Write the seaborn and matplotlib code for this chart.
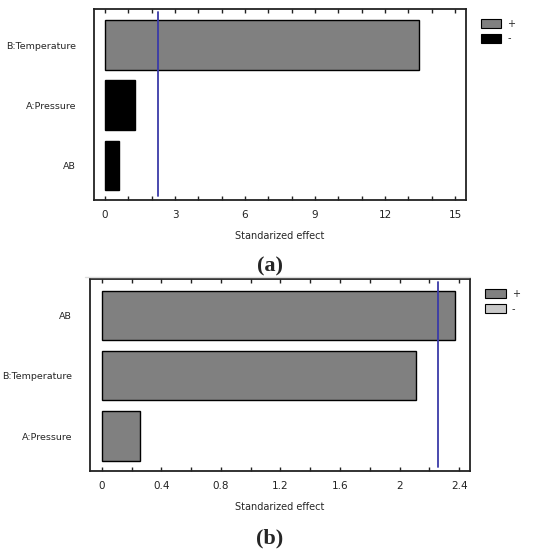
import matplotlib
matplotlib.use("Agg")
import matplotlib.pyplot as plt
import matplotlib.patches as mpatches
from matplotlib.ticker import MultipleLocator, FormatStrFormatter
import seaborn as sns
import pandas as pd

# ---- data ----
terms_a = ["B:Temperature", "A:Pressure", "AB"]
effects_a = [13.46, 1.29, 0.62]
signs_a = ["+", "-", "-"]
crit_a = 2.27

terms_b = ["AB", "B:Temperature", "A:Pressure"]
effects_b = [2.37, 2.11, 0.26]
signs_b = ["+", "+", "+"]
crit_b = 2.26

xlabel = "Standarized effect"
captions = ["(a)", "(b)"]

sns.set_theme(style="white")
plt.rcParams['font.family'] = ['DejaVu Sans']

fig = plt.figure(figsize=(5.44, 5.5), dpi=100)
ax_a = fig.add_axes([94/544, 1-200/550, 372/544, 191/550])
ax_b = fig.add_axes([90/544, 1-471/550, 380/544, 191.7/550])

GRAY = "#808080"
BLACK = "#000000"
LIGHT = "#c8c8c8"
BLUE = "#3a3aa8"


def draw(ax, terms, effects, signs, crit, minus_color, xlim, major, minor):
    df = pd.DataFrame({"term": terms, "effect": effects, "sign": signs})
    sns.barplot(data=df, y="term", x="effect", hue="sign", order=terms,
                palette={"+": GRAY, "-": minus_color}, dodge=False,
                width=0.82, edgecolor="black", linewidth=1.0,
                legend=False, ax=ax, saturation=1)
    ax.axvline(crit, ymin=0.02, ymax=0.985, color=BLUE, lw=1.3)
    ax.set_xlim(*xlim)
    ax.set_ylim(2.58, -0.6)
    ax.xaxis.set_major_locator(MultipleLocator(major))
    ax.xaxis.set_minor_locator(MultipleLocator(minor))
    ax.xaxis.set_major_formatter(FormatStrFormatter("%g"))
    ax.tick_params(axis="x", which="both", direction="in", top=True,
                   bottom=True, length=3, width=1, labelsize=7.5, pad=7,
                   colors="#222222")
    ax.tick_params(axis="y", which="both", left=False, labelsize=6.8, pad=7)
    ax.set_xlabel(xlabel, fontsize=7, labelpad=8)
    ax.set_ylabel("")
    for s in ax.spines.values():
        s.set_visible(True)
        s.set_color("#222222")
        s.set_linewidth(1.3)
    handles = [mpatches.Patch(facecolor=GRAY, edgecolor="black", lw=0.8, label="+"),
               mpatches.Patch(facecolor=minus_color, edgecolor="black", lw=0.8, label="-")]
    ax.legend(handles=handles, loc="upper left", bbox_to_anchor=(1.03, 0.97),
              frameon=False, fontsize=7, handlelength=2.1, handleheight=1.1,
              handletextpad=0.6, labelspacing=0.5, borderaxespad=0)


draw(ax_a, terms_a, effects_a, signs_a, crit_a, BLACK, (-0.47, 15.47), 3, 1)
draw(ax_b, terms_b, effects_b, signs_b, crit_b, LIGHT, (-0.079, 2.473), 0.4, 0.2)

fig.text(270/544, 1-266/550, captions[0], ha="center", va="center",
         family="Liberation Serif", fontweight="bold", fontsize=16)
fig.text(270/544, 1-538/550, captions[1], ha="center", va="center",
         family="Liberation Serif", fontweight="bold", fontsize=16)
fig.add_artist(plt.Line2D([85/544, 470/544], [1-277/550, 1-277/550],
                          color="#dddddd", lw=1))

fig.savefig("out.png", dpi=100)
